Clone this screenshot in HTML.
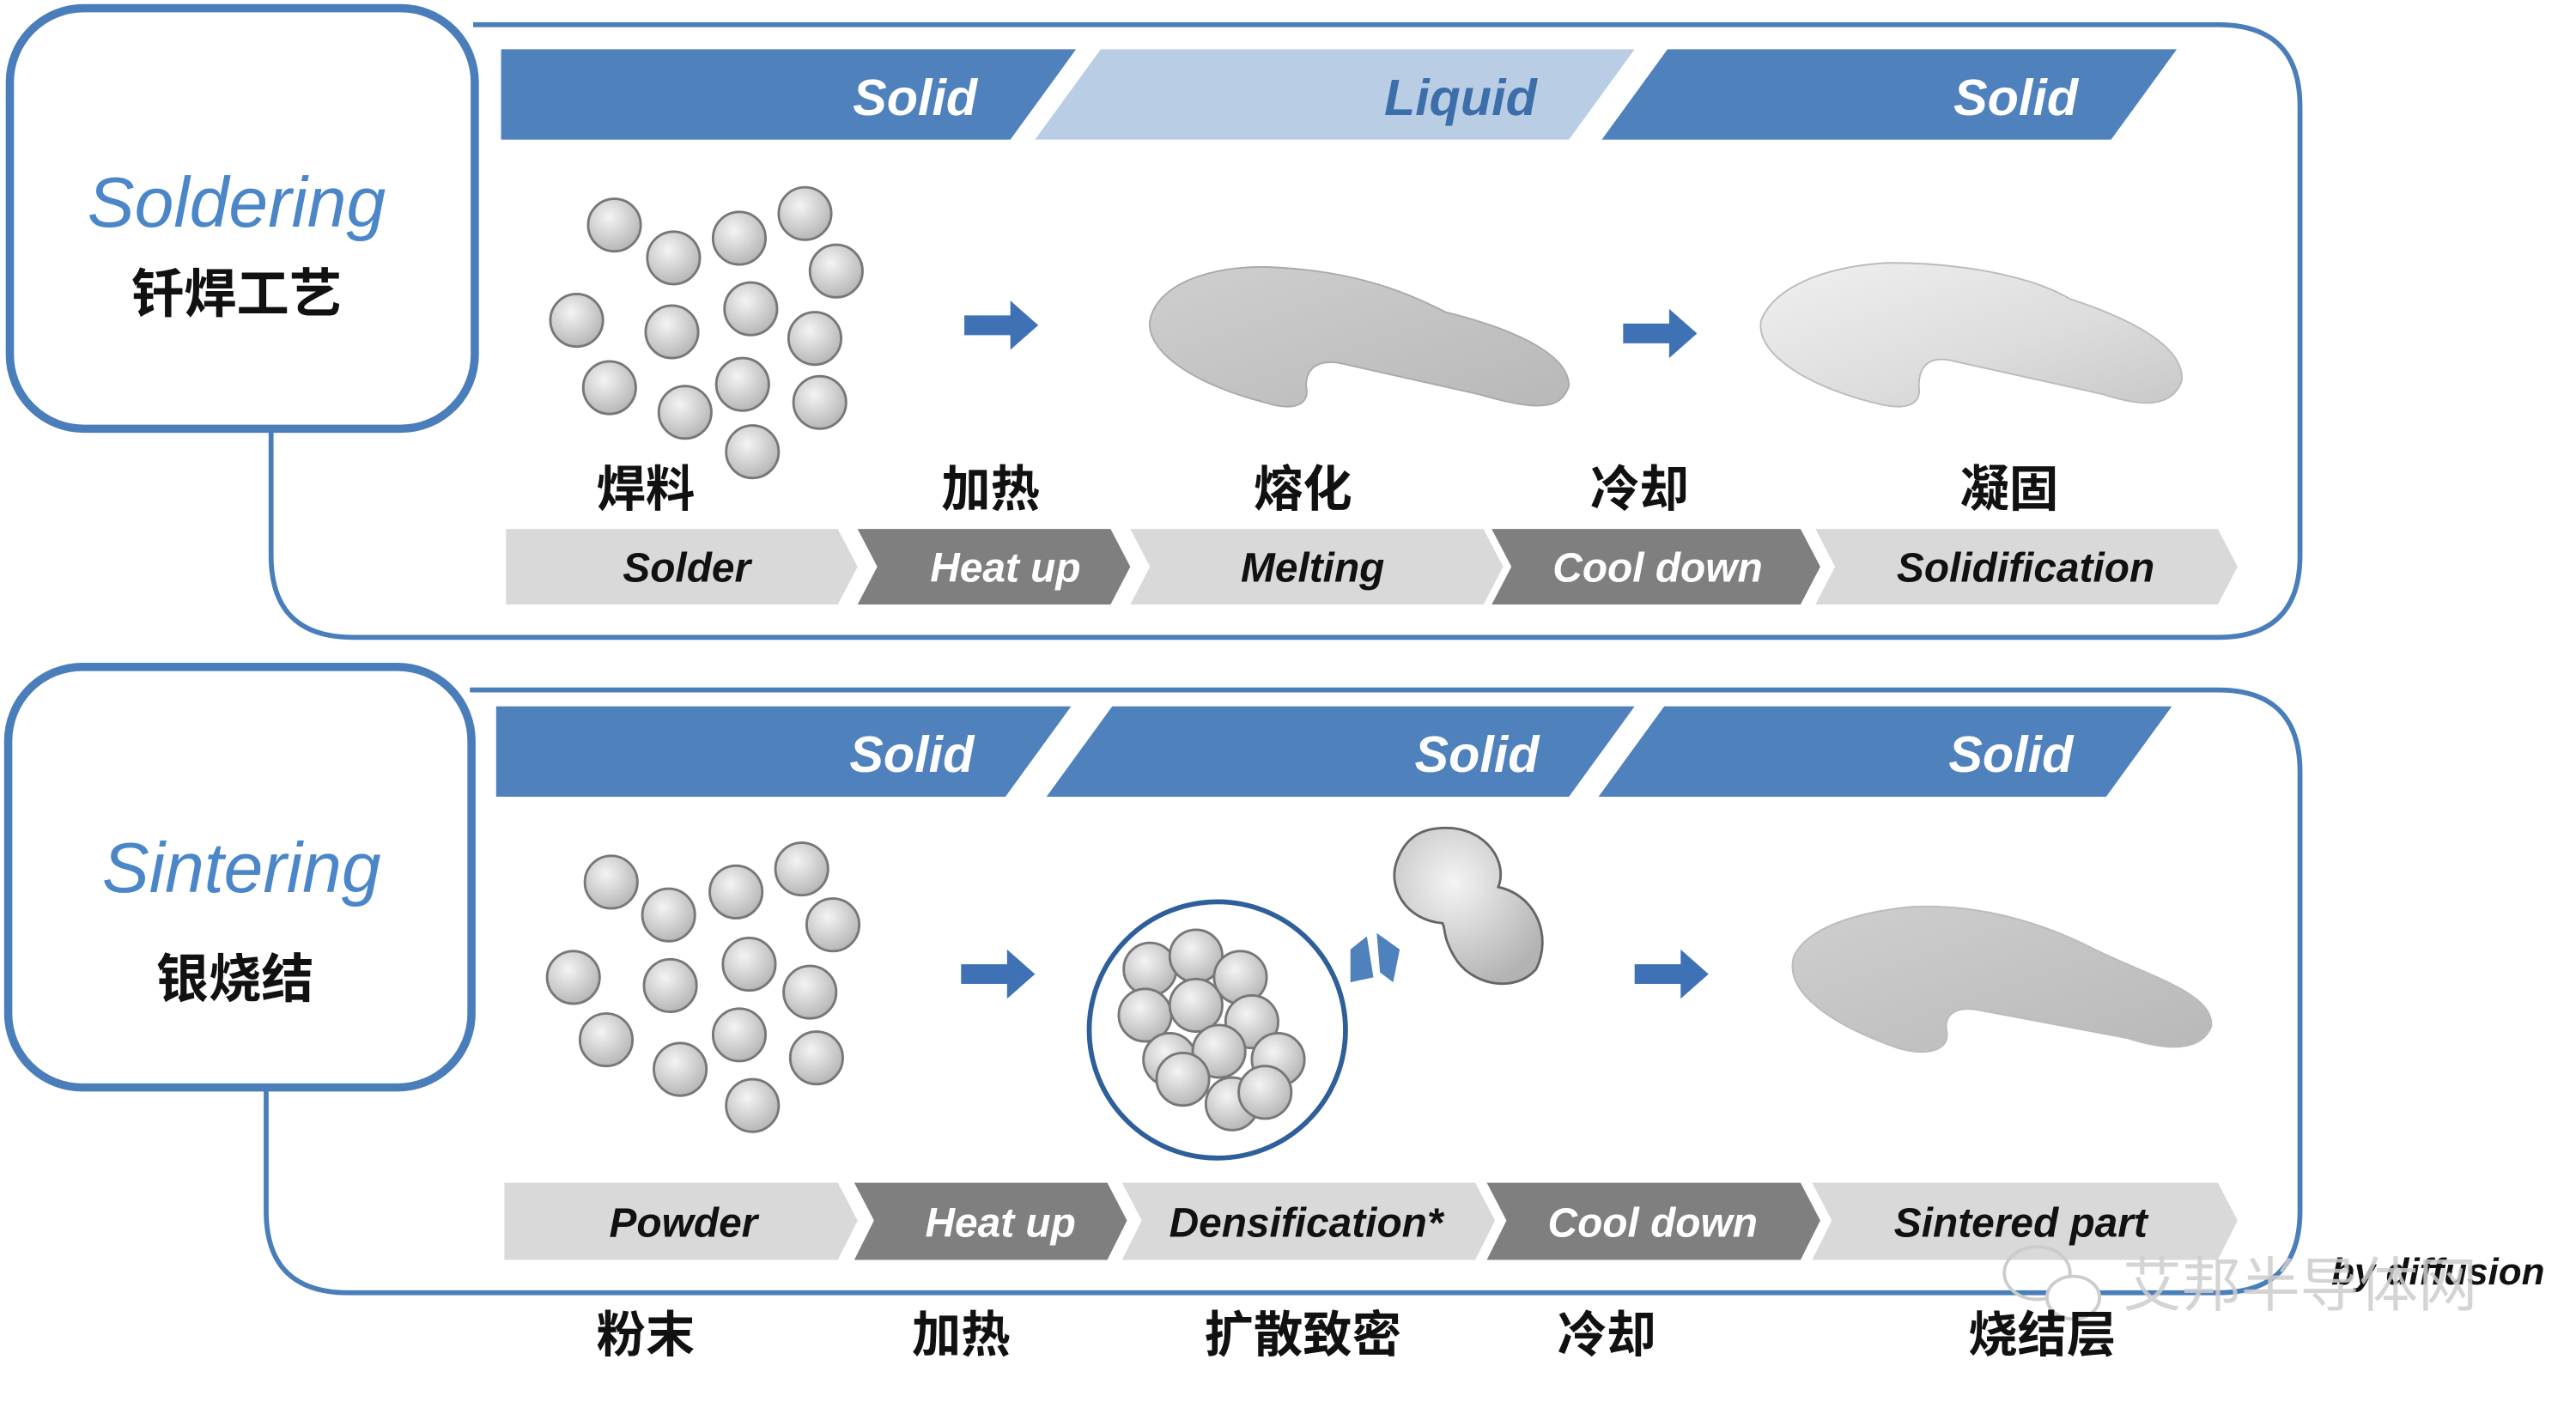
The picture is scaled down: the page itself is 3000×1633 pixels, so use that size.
<!DOCTYPE html>
<html><head><meta charset="utf-8"><style>
html,body{margin:0;padding:0;background:#fff}
svg{display:block}
text{font-family:"Liberation Sans","Noto Sans CJK SC",sans-serif}
.h{font-size:31px;font-weight:bold;font-style:italic;fill:#fff;text-anchor:middle}
.c{font-size:25px;font-weight:bold;font-style:italic;text-anchor:middle}
.zh{font-size:30px;fill:#111;font-weight:bold;text-anchor:middle;font-family:"Liberation Sans","Noto Sans CJK SC",sans-serif}
</style></head><body>
<svg width="3000" height="1633" viewBox="0 0 1568 853.5" xmlns="http://www.w3.org/2000/svg">
<defs>
<radialGradient id="g" cx="0.4" cy="0.35" r="0.7"><stop offset="0" stop-color="#f4f4f4"/><stop offset="1" stop-color="#b3b3b3"/></radialGradient>
<linearGradient id="bl" x1="0" y1="0" x2="1" y2="1"><stop offset="0" stop-color="#cfcfcf"/><stop offset="1" stop-color="#b8b8b8"/></linearGradient>
<linearGradient id="bl2" x1="0" y1="0" x2="1" y2="1"><stop offset="0" stop-color="#f0f0f0"/><stop offset="0.6" stop-color="#dcdcdc"/><stop offset="1" stop-color="#c8c8c8"/></linearGradient>
<g id="p"><circle r="16" fill="url(#g)" stroke="#777" stroke-width="1.5"/></g>
<g id="arr"><path d="M0,-6 L28,-6 L28,-15 L45,0 L28,15 L28,6 L0,6 Z" fill="#3f72b5"/></g>
</defs>

<path d="M165,262 L165,338 Q165,388 215,388 L1350,388 Q1400,388 1400,338 L1400,65 Q1400,15 1350,15 L288,15" fill="none" stroke="#4a7ebb" stroke-width="3"/>
<rect x="6" y="5" width="283" height="256" rx="45" fill="#fff" stroke="#4a7ebb" stroke-width="5"/>
<text x="144" y="138" style="font-size:43px;font-style:italic;fill:#4a86c8" text-anchor="middle">Soldering</text>
<text x="144" y="190" class="zh" style="font-size:32px">钎焊工艺</text>

<polygon points="305,30 655,30 615,85 305,85" fill="#4f81bd"/>
<polygon points="670,30 995,30 955,85 630,85" fill="#b9cde5"/>
<polygon points="1015,30 1325,30 1285,85 975,85" fill="#4f81bd"/>
<text x="557" y="70" class="h">Solid</text>
<text x="889" y="70" class="h" style="fill:#3c6eaa">Liquid</text>
<text x="1227" y="70" class="h">Solid</text>

<use href="#p" x="374" y="137"/><use href="#p" x="410" y="157"/><use href="#p" x="450" y="145"/><use href="#p" x="490" y="130"/><use href="#p" x="509" y="165"/><use href="#p" x="351" y="195"/><use href="#p" x="409" y="202"/><use href="#p" x="457" y="188"/><use href="#p" x="496" y="206"/><use href="#p" x="371" y="236"/><use href="#p" x="417" y="251"/><use href="#p" x="452" y="234"/><use href="#p" x="499" y="245"/><use href="#p" x="458" y="275"/>

<use href="#arr" x="587" y="198"/>
<use href="#arr" x="988" y="203"/>

<path d="M700,195 C705,170 745,160 780,163 C830,166 860,180 880,190 C920,200 955,215 955,235 C950,250 935,250 900,240 L820,222 C805,218 795,222 795,235 C798,248 785,250 770,245 C730,235 697,215 700,195 Z" fill="url(#bl)" stroke="#aaa" stroke-width="1"/>
<path d="M1072,195 C1080,175 1110,162 1150,160 C1200,160 1240,170 1260,182 C1300,195 1330,212 1328,232 C1322,248 1305,248 1280,240 L1190,220 C1175,216 1168,222 1168,235 C1170,248 1158,250 1140,245 C1100,235 1068,215 1072,195 Z" fill="url(#bl2)" stroke="#bbb" stroke-width="1"/>

<text x="393" y="308" class="zh">焊料</text>
<text x="603" y="308" class="zh">加热</text>
<text x="793" y="308" class="zh">熔化</text>
<text x="998" y="308" class="zh">冷却</text>
<text x="1223" y="308" class="zh">凝固</text>

<polygon points="308,322 510,322 522,345 510,368 308,368" fill="#d9d9d9"/>
<polygon points="522,322 676,322 688,345 676,368 522,368 534,345" fill="#7f7f7f"/>
<polygon points="688,322 903,322 915,345 903,368 688,368 700,345" fill="#d9d9d9"/>
<polygon points="908,322 1096,322 1108,345 1096,368 908,368 920,345" fill="#7f7f7f"/>
<polygon points="1105,322 1350,322 1362,345 1350,368 1105,368 1117,345" fill="#d9d9d9"/>
<text x="418" y="354" class="c" fill="#111">Solder</text>
<text x="612" y="354" class="c" fill="#fff">Heat up</text>
<text x="799" y="354" class="c" fill="#111">Melting</text>
<text x="1009" y="354" class="c" fill="#fff">Cool down</text>
<text x="1233" y="354" class="c" fill="#111">Solidification</text>

<path d="M162,662 L162,737 Q162,787 212,787 L1350,787 Q1400,787 1400,737 L1400,470 Q1400,420 1350,420 L286,420" fill="none" stroke="#4a7ebb" stroke-width="3"/>
<rect x="5" y="406" width="282" height="256" rx="45" fill="#fff" stroke="#4a7ebb" stroke-width="5"/>
<text x="147" y="543" style="font-size:43px;font-style:italic;fill:#4a86c8" text-anchor="middle">Sintering</text>
<text x="143" y="607" class="zh" style="font-size:32px">银烧结</text>

<polygon points="302,430 652,430 612,485 302,485" fill="#4f81bd"/>
<polygon points="677,430 995,430 955,485 637,485" fill="#4f81bd"/>
<polygon points="1013,430 1322,430 1282,485 973,485" fill="#4f81bd"/>
<text x="555" y="470" class="h">Solid</text>
<text x="899" y="470" class="h">Solid</text>
<text x="1224" y="470" class="h">Solid</text>

<use href="#p" x="372" y="537"/><use href="#p" x="407" y="557"/><use href="#p" x="448" y="543"/><use href="#p" x="488" y="529"/><use href="#p" x="507" y="563"/><use href="#p" x="349" y="595"/><use href="#p" x="408" y="600"/><use href="#p" x="456" y="587"/><use href="#p" x="493" y="604"/><use href="#p" x="369" y="633"/><use href="#p" x="414" y="651"/><use href="#p" x="450" y="630"/><use href="#p" x="497" y="644"/><use href="#p" x="458" y="673"/>

<use href="#arr" x="585" y="593"/>
<use href="#arr" x="995" y="593"/>

<circle cx="741" cy="627" r="78" fill="#fff" stroke="#2f5f9a" stroke-width="3"/>
<use href="#p" x="700" y="590"/><use href="#p" x="728" y="582"/><use href="#p" x="755" y="595"/><use href="#p" x="697" y="618"/><use href="#p" x="728" y="612"/><use href="#p" x="762" y="622"/><use href="#p" x="712" y="645"/><use href="#p" x="742" y="640"/><use href="#p" x="778" y="645"/><use href="#p" x="720" y="657"/><use href="#p" x="750" y="672"/><use href="#p" x="770" y="665"/>

<polygon points="822,578 832,570 836,595 822,598" fill="#4f81bd"/>
<polygon points="838,568 852,578 848,598 840,592" fill="#4f81bd"/>

<path d="M880,504 C905,504 918,525 912,540 C935,545 945,570 935,590 C922,605 895,600 885,582 C878,570 880,565 878,562 C855,560 845,540 850,525 C855,510 865,504 880,504 Z" fill="url(#g)" stroke="#666" stroke-width="1.5"/>

<path d="M1092,582 C1100,565 1130,555 1165,552 C1210,550 1250,565 1275,578 C1310,595 1348,605 1346,625 C1340,640 1320,640 1295,632 L1205,615 C1190,612 1183,618 1185,628 C1187,640 1172,643 1155,638 C1118,625 1085,605 1092,582 Z" fill="url(#bl)" stroke="#bbb" stroke-width="1"/>

<polygon points="307,720 510,720 522,743 510,767 307,767" fill="#d9d9d9"/>
<polygon points="520,720 674,720 686,743 674,767 520,767 532,743" fill="#7f7f7f"/>
<polygon points="683,720 898,720 910,743 898,767 683,767 695,743" fill="#d9d9d9"/>
<polygon points="905,720 1096,720 1108,743 1096,767 905,767 917,743" fill="#7f7f7f"/>
<polygon points="1103,720 1350,720 1362,743 1350,767 1103,767 1115,743" fill="#d9d9d9"/>
<text x="416" y="753" class="c" fill="#111">Powder</text>
<text x="609" y="753" class="c" fill="#fff">Heat up</text>
<text x="795" y="753" class="c" fill="#111">Densification*</text>
<text x="1006" y="753" class="c" fill="#fff">Cool down</text>
<text x="1230" y="753" class="c" fill="#111">Sintered part</text>

<text x="1484" y="782" style="font-size:23px;font-weight:bold;font-style:italic;fill:#111" text-anchor="middle">by diffusion</text>
<text x="1400" y="795" style="font-size:36px;fill:#ccc;fill-opacity:0.85" text-anchor="middle">艾邦半导体网</text>
<ellipse cx="1240" cy="775" rx="20" ry="16" fill="none" stroke="#ccc" stroke-width="2"/>
<ellipse cx="1262" cy="790" rx="16" ry="13" fill="#fff" stroke="#ccc" stroke-width="2"/>

<text x="393" y="823" class="zh">粉末</text>
<text x="585" y="823" class="zh">加热</text>
<text x="793" y="823" class="zh">扩散致密</text>
<text x="978" y="823" class="zh">冷却</text>
<text x="1243" y="823" class="zh">烧结层</text>
</svg>
</body></html>
